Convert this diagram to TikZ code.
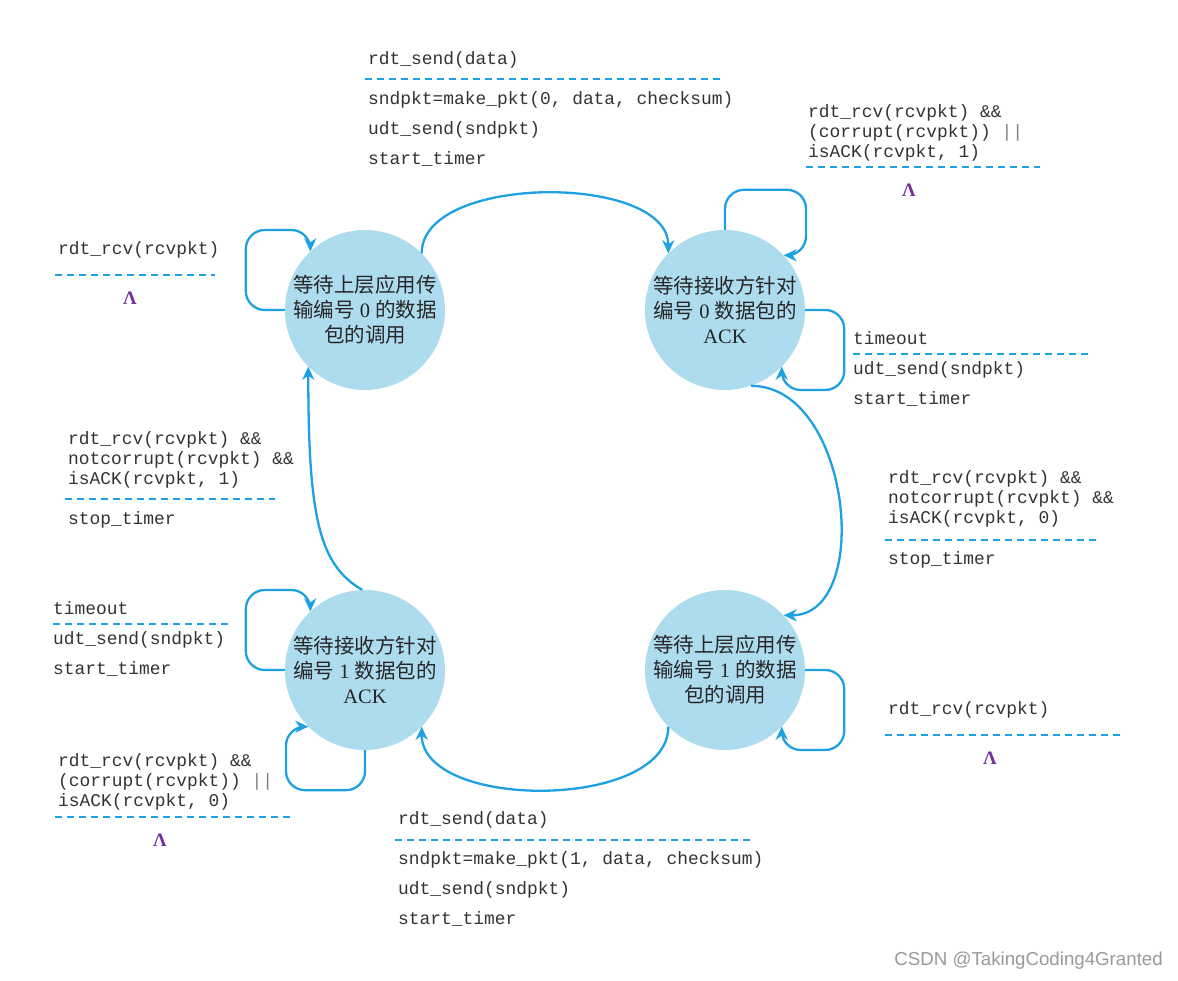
\documentclass[tikz,border=0pt]{standalone}
\usepackage{fontspec}
\setmainfont{Liberation Serif}
\setsansfont{Liberation Sans}
\setmonofont{Liberation Mono}
\newfontfamily\cjk{Noto Sans CJK SC}
\usetikzlibrary{arrows.meta}
\definecolor{fsmblue}{RGB}{29,161,226}
\definecolor{statefill}{RGB}{174,220,239}
\definecolor{lampurple}{RGB}{112,48,160}
\definecolor{codegray}{RGB}{51,51,51}
\tikzset{
  state/.style={circle, fill=statefill, minimum size=160pt, inner sep=0pt, align=center, text=black!85, font=\fontsize{20.5}{25}\selectfont},
  trans/.style={draw=fsmblue, line width=2.3pt, -{Stealth[length=13pt,width=12pt,inset=4pt]}},
  selfloop/.style={trans, rounded corners=19pt},
  code/.style={anchor=base west, inner sep=0pt, text=codegray, font=\fontsize{17.9}{20}\selectfont\ttfamily},
  sep/.style={draw=fsmblue, line width=2pt, dash pattern=on 7pt off 5pt},
  lam/.style={text=lampurple, inner sep=0pt, font=\fontsize{19}{20}\selectfont\bfseries}
}
\begin{document}
\begin{tikzpicture}[x=1pt,y=1pt]
\useasboundingbox (0,0) rectangle (1178,981);
% states
\node[state] (w0) at (365,671) {{\cjk 等待上层应用传}\\{\cjk 输编号} 0 {\cjk 的数据}\\{\cjk 包的调用}};
\node[state] (a0) at (725,671) {{\cjk 等待接收方针对}\\{\cjk 编号} 0 {\cjk 数据包的}\\ACK};
\node[state] (w1) at (725,311) {{\cjk 等待上层应用传}\\{\cjk 输编号} 1 {\cjk 的数据}\\{\cjk 包的调用}};
\node[state] (a1) at (365,311) {{\cjk 等待接收方针对}\\{\cjk 编号} 1 {\cjk 数据包的}\\ACK};
% transitions
\draw[trans] (w0.45) .. controls +(90:80) and +(90:80) .. (a0.135);
\draw[trans] (a0.-71) .. controls +(0:100) and +(0:90) .. (w1.43);
\draw[trans] (w1.225) .. controls +(270:84) and +(270:84) .. (a1.-45);
\draw[trans] (a1.92) .. controls +(150:50) and +(270:150) .. (w0.225);
\draw[selfloop] (w0.180) -- ++(-39,0) -- ++(0,80) -| (w0.133);
\draw[selfloop] (a0.90) -- ++(0,40) -- ++(81,0) |- (a0.43);
\draw[selfloop] (a0.0) -- ++(39,0) -- ++(0,-80) -| (a0.-45);
\draw[selfloop] (w1.0) -- ++(39,0) -- ++(0,-80) -| (w1.-45);
\draw[selfloop] (a1.180) -- ++(-39,0) -- ++(0,80) -| (a1.133);
\draw[selfloop] (a1.270) -- ++(0,-40) -- ++(-79,0) |- (a1.225);
% event / action separators
\foreach \xa/\xb/\y in {365/720/902, 806/1040/814, 55/215/706, 853/1090/627, 65/275/482, 885/1097/441, 53/232/357, 885/1120/246, 55/290/164, 395/750/141}
  \draw[sep] (\xa,\y) -- (\xb,\y);
% labels
\foreach \n/\x/\y/\t in {s0a/368/916/{rdt\_send(data)}, s0b/368/876/{sndpkt=make\_pkt(0, data, checksum)}, s0c/368/846/{udt\_send(sndpkt)}, s0d/368/816/{start\_timer},
  c0a/808/863/{rdt\_rcv(rcvpkt) \&\&}, c0b/808/843/{(corrupt(rcvpkt)) \textcolor{gray}{||}}, c0c/808/823/{isACK(rcvpkt, 1)},
  r0a/58/726/{rdt\_rcv(rcvpkt)},
  t0a/853/636/{timeout}, t0b/853/606/{udt\_send(sndpkt)}, t0c/853/576/{start\_timer},
  k1a/68/536/{rdt\_rcv(rcvpkt) \&\&}, k1b/68/516/{notcorrupt(rcvpkt) \&\&}, k1c/68/496/{isACK(rcvpkt, 1)}, k1d/68/456/{stop\_timer},
  k0a/888/497/{rdt\_rcv(rcvpkt) \&\&}, k0b/888/477/{notcorrupt(rcvpkt) \&\&}, k0c/888/457/{isACK(rcvpkt, 0)}, k0d/888/416/{stop\_timer},
  t1a/53/366/{timeout}, t1b/53/336/{udt\_send(sndpkt)}, t1c/53/306/{start\_timer},
  r1a/888/266/{rdt\_rcv(rcvpkt)},
  c1a/58/214/{rdt\_rcv(rcvpkt) \&\&}, c1b/58/194/{(corrupt(rcvpkt)) \textcolor{gray}{||}}, c1c/58/174/{isACK(rcvpkt, 0)},
  s1a/398/156/{rdt\_send(data)}, s1b/398/116/{sndpkt=make\_pkt(1, data, checksum)}, s1c/398/86/{udt\_send(sndpkt)}, s1d/398/56/{start\_timer}}
  \node[code] (\n) at (\x,\y) {\t};
\foreach \n/\x/\y in {l0/909/791, l1/130/683, l2/990/223, l3/160/141}
  \node[lam] (\n) at (\x,\y) {Λ};
\node[anchor=east, inner sep=0pt, text=gray!80, font=\sffamily\fontsize{18.7}{20}\selectfont] (mark) at (1163,20) {CSDN @TakingCoding4Granted};
\end{tikzpicture}
\end{document}
